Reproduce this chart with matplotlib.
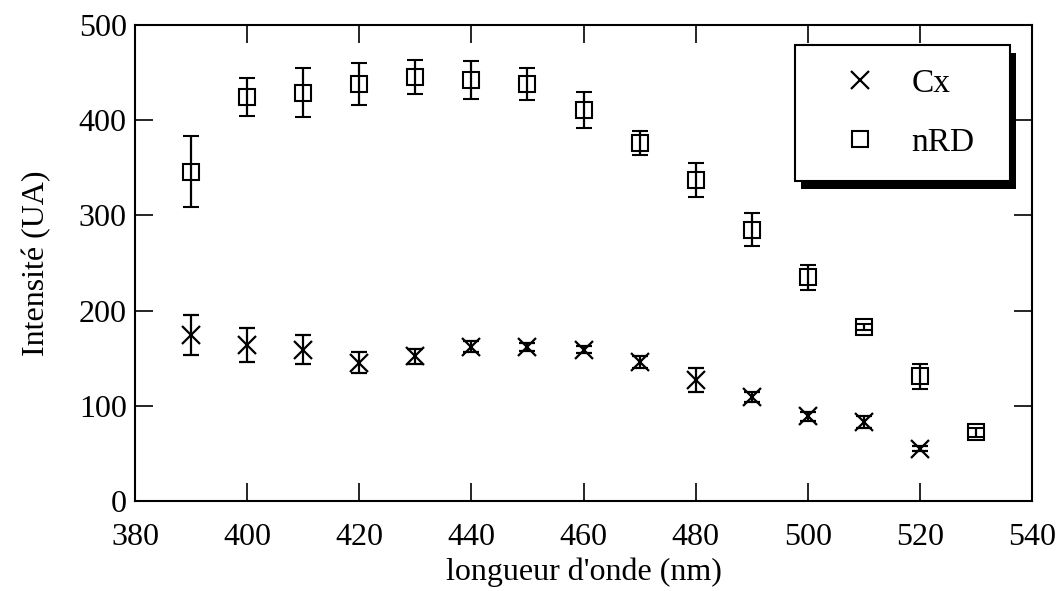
import matplotlib
matplotlib.use("Agg")
import matplotlib.pyplot as plt
from matplotlib.patches import Rectangle
from matplotlib.transforms import IdentityTransform

plt.rcParams['font.family'] = ['Liberation Serif', 'DejaVu Serif']

# longueur d'onde (nm)
wl_cx = [390, 400, 410, 420, 430, 440, 450, 460, 470, 480, 490, 500, 510, 520]
cx = [174, 164, 159, 145, 152, 162, 162, 159, 146, 127, 109, 89, 83, 55]
cx_err = [21, 18, 15, 11, 8, 6, 4, 4, 6, 13, 5, 5, 6, 3]

wl_nrd = [390, 400, 410, 420, 430, 440, 450, 460, 470, 480, 490, 500, 510, 520, 530]
nrd = [346, 424, 429, 438, 445, 442, 438, 411, 376, 337, 285, 235, 183, 131, 72]
nrd_err = [37, 20, 26, 22, 18, 20, 17, 19, 13, 18, 17, 13, 3, 13, 5]

fig = plt.figure(figsize=(10.59, 5.91), dpi=100)
ax = fig.add_axes([0.1275, 0.1523, 0.847, 0.8054])

ax.errorbar(wl_cx, cx, yerr=cx_err, fmt='x', color='black', ms=13, mew=1.6,
            elinewidth=1.6, capsize=6, capthick=1.6, label='Cx')
ax.errorbar(wl_nrd, nrd, yerr=nrd_err, fmt='s', color='black', mfc='none', ms=12,
            mew=1.5, elinewidth=1.6, capsize=6, capthick=1.6, label='nRD')

ax.set_xlim(380, 540)
ax.set_ylim(0, 500)
ax.set_xticks(range(380, 541, 20))
ax.set_yticks(range(0, 501, 100))
ax.tick_params(direction='in', length=13, width=1.2, labelsize=23,
               top=True, right=True)
ax.tick_params(axis='x', pad=16)
ax.tick_params(axis='y', pad=6)
for s in ax.spines.values():
    s.set_linewidth(1.5)

ax.set_xlabel("longueur d'onde (nm)", fontsize=23, labelpad=4)
ax.set_ylabel("Intensité (UA)", fontsize=23, labelpad=20)

# legende sans barres d'erreur
h, l = ax.get_legend_handles_labels()
h = [hh[0] for hh in h]
leg = ax.legend(h, l, loc='upper left', bbox_to_anchor=(0.7358, 0.5, 0.2397, 0.458),
                mode='expand', borderaxespad=0, fontsize=24, frameon=True,
                fancybox=False, edgecolor='black', framealpha=1, borderpad=0.7,
                labelspacing=0.85, handletextpad=0.3, handlelength=2.5)
leg.get_frame().set_linewidth(1.5)
leg.set_zorder(5)

fig.canvas.draw()
bb = leg.get_frame().get_window_extent()
shadow = Rectangle((bb.x0 + 6, bb.y0 - 8), bb.width, bb.height,
                   transform=IdentityTransform(), facecolor='black',
                   edgecolor='none', zorder=4, clip_on=False)
ax.add_artist(shadow)

fig.savefig("out.png", dpi=100)
